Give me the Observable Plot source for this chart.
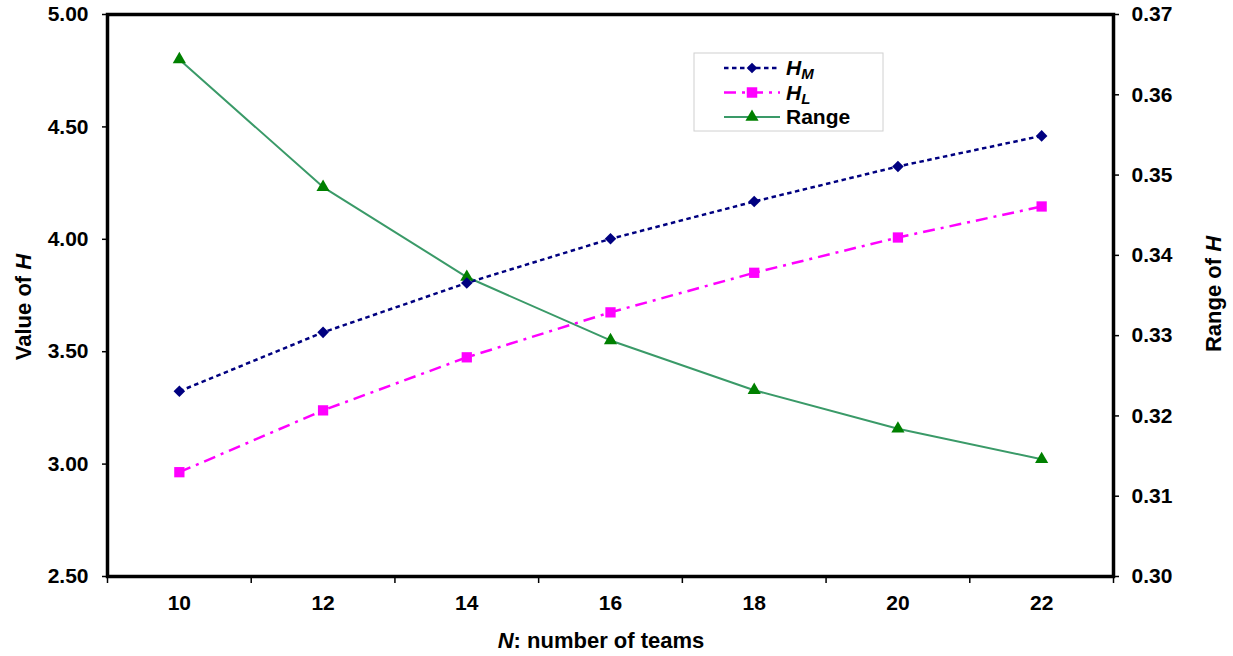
<!DOCTYPE html>
<html><head><meta charset="utf-8">
<script src="https://cdn.jsdelivr.net/npm/d3@7"></script>
<script src="https://cdn.jsdelivr.net/npm/@observablehq/plot@0.6"></script>
<style>
body{margin:0;background:#fff;}
#chart{position:relative;width:1233px;height:656px;}
</style>
</head><body><div id="chart"></div>
<script>
// ---- data ----
const teams = [10, 12, 14, 16, 18, 20, 22];
const hM = [3.324, 3.586, 3.806, 4.002, 4.168, 4.324, 4.460];
const hL = [2.964, 3.239, 3.475, 3.675, 3.851, 4.008, 4.146];
const rangeH = [0.3644, 0.3485, 0.3373, 0.3294, 0.3232, 0.3184, 0.3146];
const leftTicks = [2.5, 3.0, 3.5, 4.0, 4.5, 5.0];
const rightTicks = [0.30, 0.31, 0.32, 0.33, 0.34, 0.35, 0.36, 0.37];
const xBoundaries = [9, 11, 13, 15, 17, 19, 21, 23];

// map right-axis values onto left y scale
const leftDomain = [2.5, 5.0];
const rightDomain = [0.30, 0.37];
const toY = r => leftDomain[0] + (r - rightDomain[0]) / (rightDomain[1] - rightDomain[0]) * (leftDomain[1] - leftDomain[0]);
const fromY = v => rightDomain[0] + (v - leftDomain[0]) / (leftDomain[1] - leftDomain[0]) * (rightDomain[1] - rightDomain[0]);

const dM = teams.map((t, i) => ({x: t, y: hM[i]}));
const dL = teams.map((t, i) => ({x: t, y: hL[i]}));
const dR = teams.map((t, i) => ({x: t, y: toY(rangeH[i])}));

const FONT = "'Liberation Sans', Arial, sans-serif";
const cNavy = "#000080", cMag = "#ff00ff", cLine = "#3a9a68", cTri = "#008000";
const dashM = "4.5,3.5", dashL = "12,6,3,6";

const chart = Plot.plot({
  width: 1233, height: 656,
  marginLeft: 107, marginRight: 120, marginTop: 14, marginBottom: 80,
  style: {fontFamily: FONT, fontWeight: "bold", fontSize: "21px", color: "#000", background: "#fff", overflow: "visible"},
  x: {domain: [xBoundaries[0], xBoundaries[xBoundaries.length - 1]], label: null},
  y: {domain: leftDomain, label: null},
  marks: [
    Plot.line(dR, {x: "x", y: "y", stroke: cLine, strokeWidth: 2}),
    Plot.line(dL, {x: "x", y: "y", stroke: cMag, strokeWidth: 2.5, strokeDasharray: dashL, strokeLinecap: "butt"}),
    Plot.line(dM, {x: "x", y: "y", stroke: cNavy, strokeWidth: 2.5, strokeDasharray: dashM, strokeLinecap: "butt"}),
    Plot.dot(dR, {x: "x", y: "y", symbol: "triangle", r: 4.9, fill: cTri, stroke: "none"}),
    Plot.dot(dL, {x: "x", y: "y", symbol: "square", r: 5.8, fill: cMag, stroke: "none"}),
    Plot.dot(dM, {x: "x", y: "y", symbol: "diamond2", r: 5.2, fill: cNavy, stroke: "none"}),
    Plot.axisX(xBoundaries, {tickFormat: () => "", tickSize: 7, strokeWidth: 1.5}),
    Plot.axisX(teams, {tickSize: 0, tickPadding: 19, tickFormat: d => String(d)}),
    Plot.axisY(leftTicks, {anchor: "left", tickSize: 5, tickPadding: 14, strokeWidth: 1.5, tickFormat: d => d.toFixed(2)}),
    Plot.axisY(rightTicks.map(toY), {anchor: "right", tickSize: 5, tickPadding: 13, strokeWidth: 1.5, tickFormat: v => fromY(v).toFixed(2)}),
    Plot.frame({stroke: "#000", strokeWidth: 3.5})
  ]
});
document.getElementById("chart").appendChild(chart);

// ---- titles & legend ----
const svg = d3.select(chart);
const xs = chart.scale("x"), ys = chart.scale("y");
const cx = (xs.apply(xBoundaries[0]) + xs.apply(xBoundaries[xBoundaries.length - 1])) / 2 - 9;
const cy = (ys.apply(leftDomain[0]) + ys.apply(leftDomain[1])) / 2;

const xl = svg.append("text").attr("x", cx).attr("y", 648).attr("text-anchor", "middle")
  .style("font-family", FONT).style("font-weight", "bold").style("font-size", "22px");
xl.append("tspan").style("font-style", "italic").text("N");
xl.append("tspan").text(": number of teams");

const yl = svg.append("text").attr("transform", `translate(31,${cy + 12}) rotate(-90)`).attr("text-anchor", "middle")
  .style("font-family", FONT).style("font-weight", "bold").style("font-size", "22px");
yl.append("tspan").text("Value of ");
yl.append("tspan").style("font-style", "italic").text("H");

const yr = svg.append("text").attr("transform", `translate(1221,${cy - 1}) rotate(-90)`).attr("text-anchor", "middle")
  .style("font-family", FONT).style("font-weight", "bold").style("font-size", "22px");
yr.append("tspan").text("Range of ");
yr.append("tspan").style("font-style", "italic").text("H");

// legend
const lg = svg.append("g").attr("transform", "translate(694,53)");
lg.append("rect").attr("width", 189).attr("height", 78).attr("fill", "#fff").attr("stroke", "#d0d0d0").attr("stroke-width", 1);
const rows = [
  {label: "H", sub: "M", dash: dashM, sym: d3.symbolDiamond2, size: 72, fill: cNavy, lc: cNavy},
  {label: "H", sub: "L", dash: dashL, sym: d3.symbolSquare, size: 110, fill: cMag, lc: cMag},
  {label: "Range", sub: null, dash: null, sym: d3.symbolTriangle, size: 75, fill: cTri, lc: cLine}
];
rows.forEach((r, i) => {
  const yy = 15 + i * 24.5;
  const ln = lg.append("line").attr("x1", 30).attr("x2", 86).attr("y1", yy).attr("y2", yy)
    .attr("stroke", r.lc).attr("stroke-width", r.dash ? 2.5 : 2);
  if (r.dash) ln.attr("stroke-dasharray", r.dash);
  lg.append("path").attr("d", d3.symbol(r.sym, r.size)()).attr("transform", `translate(58,${yy})`).attr("fill", r.fill);
  const t = lg.append("text").attr("x", 92).attr("y", yy + 7).attr("text-anchor", "start")
    .style("font-family", FONT).style("font-weight", "bold").style("font-size", "21px");
  if (r.sub) {
    t.append("tspan").style("font-style", "italic").text(r.label);
    t.append("tspan").style("font-style", "italic").style("font-size", "15px").attr("dy", 4).text(r.sub);
  } else {
    t.text(r.label);
  }
});
</script>
</body></html>
